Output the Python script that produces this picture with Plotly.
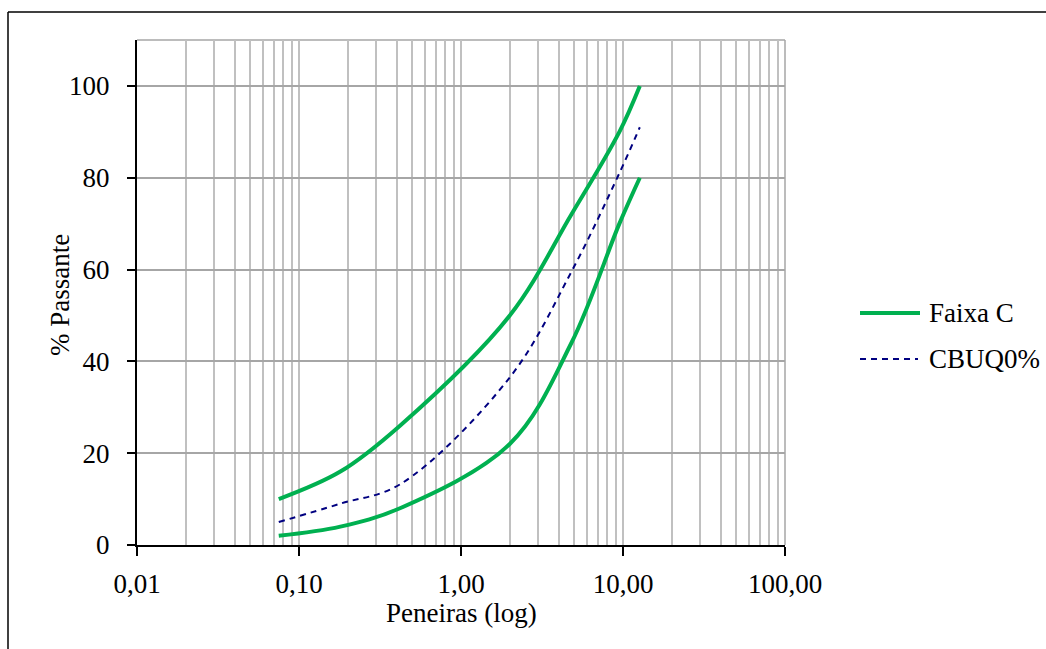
import plotly.graph_objects as go

# ---- data ----
sieves = [0.075, 0.18, 0.42, 2.0, 4.8, 9.5, 12.7]
faixa_c_upper = [10, 16, 26, 50, 72, 90, 100]
faixa_c_lower = [2, 4, 8, 22, 44, 70, 80]
cbuq0 = [5.0, 9.0, 13.2, 36.5, 59.5, 81, 91]
series_names = ["Faixa C", "CBUQ0%"]
x_title = "Peneiras (log)"
y_title = "% Passante"

x_tickvals = [0.01, 0.1, 1, 10, 100]
x_ticktext = ["0,01", "0,10", "1,00", "10,00", "100,00"]
y_tickvals = [0, 20, 40, 60, 80, 100]

minor_vals = [m * d for d in [0.01, 0.1, 1, 10] for m in range(2, 10)]

GREEN = "#00B050"
NAVY = "#000080"
FONT = "Liberation Serif"
FS = 27

W, H = 1046, 649
L, R, T, B = 137, 785, 40, 545


def px(xp):
    return (xp - L) / (R - L)


def py(yp):
    return (B - yp) / (B - T)


fig = go.Figure()
fig.add_trace(go.Scatter(x=sieves, y=faixa_c_upper, mode="lines",
                         line=dict(color=GREEN, width=4, shape="spline", smoothing=1.0),
                         name=series_names[0], showlegend=False))
fig.add_trace(go.Scatter(x=sieves, y=faixa_c_lower, mode="lines",
                         line=dict(color=GREEN, width=4, shape="spline", smoothing=1.0),
                         name=series_names[0], showlegend=False))
fig.add_trace(go.Scatter(x=sieves, y=cbuq0, mode="lines",
                         line=dict(color=NAVY, width=2, dash="6px,5px", shape="spline", smoothing=1.0),
                         name=series_names[1], showlegend=False))

shapes = [
    # outer border (top and left)
    dict(type="line", xref="paper", yref="paper", x0=px(8), x1=px(W + 5), y0=py(12), y1=py(12),
         line=dict(color="black", width=1.5)),
    dict(type="line", xref="paper", yref="paper", x0=px(8), x1=px(8), y0=py(12), y1=py(H + 5),
         line=dict(color="black", width=1.5)),
    # plot area top and right in grey
    dict(type="line", xref="paper", yref="paper", x0=0, x1=1, y0=1, y1=1,
         line=dict(color="#a6a6a6", width=1.5), layer="below"),
    dict(type="line", xref="paper", yref="paper", x0=1, x1=1, y0=0, y1=1,
         line=dict(color="#a6a6a6", width=1.5), layer="below"),
    # legend symbols
    dict(type="line", xref="paper", yref="paper", x0=px(860), x1=px(920), y0=py(313), y1=py(313),
         line=dict(color=GREEN, width=4)),
    dict(type="line", xref="paper", yref="paper", x0=px(860), x1=px(918), y0=py(359), y1=py(359),
         line=dict(color=NAVY, width=2, dash="6px,5px")),
]

tf = dict(family=FONT, size=FS, color="black")
annotations = [
    dict(text=series_names[0], xref="paper", yref="paper", x=px(927), y=py(313),
         xanchor="left", yanchor="middle", showarrow=False, font=tf),
    dict(text=series_names[1], xref="paper", yref="paper", x=px(927), y=py(359),
         xanchor="left", yanchor="middle", showarrow=False, font=tf),
    dict(text=x_title, xref="paper", yref="paper", x=px(461), y=py(613),
         xanchor="center", yanchor="middle", showarrow=False, font=tf),
    dict(text=y_title, xref="paper", yref="paper", x=px(60), y=py(295), textangle=-90,
         xanchor="center", yanchor="middle", showarrow=False, font=tf),
]

fig.update_layout(
    width=W, height=H,
    margin=dict(l=L, r=W - R, t=T, b=H - B, pad=0),
    paper_bgcolor="white", plot_bgcolor="white",
    font=dict(family=FONT, size=FS, color="black"),
    shapes=shapes, annotations=annotations,
    showlegend=False,
    xaxis=dict(
        type="log", range=[-2, 2],
        tickmode="array", tickvals=x_tickvals, ticktext=x_ticktext,
        ticks="outside", ticklen=9, tickwidth=1.5, tickcolor="black",
        ticklabelstandoff=5,
        showline=True, linecolor="black", linewidth=2,
        showgrid=True, gridcolor="#c0c0c0", gridwidth=1.5,
        minor=dict(tickvals=minor_vals, showgrid=True, gridcolor="#c0c0c0", gridwidth=1.5, ticks=""),
        zeroline=False,
        tickfont=dict(family=FONT, size=FS),
    ),
    yaxis=dict(
        range=[0, 110],
        tickmode="array", tickvals=y_tickvals,
        ticks="outside", ticklen=8, tickwidth=1.5, tickcolor="black",
        ticklabelstandoff=12,
        showline=True, linecolor="black", linewidth=2,
        showgrid=True, gridcolor="#a6a6a6", gridwidth=1.5,
        zeroline=False,
        tickfont=dict(family=FONT, size=FS),
    ),
)

fig.write_html("out.html")
